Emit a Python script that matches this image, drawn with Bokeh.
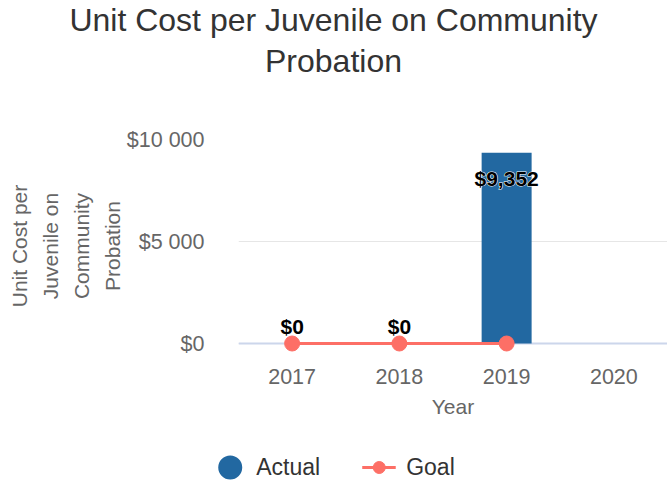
from bokeh.plotting import figure
from bokeh.models import (ColumnDataSource, Range1d, FactorRange, FixedTicker,
                          Legend, LegendItem, Span, Div)
from bokeh.layouts import column
from bokeh.core.properties import value
from bokeh.embed import file_html
from bokeh.resources import INLINE

years = ["2017", "2018", "2019", "2020"]
actual = [0, 0, 9352, None]
actual_labels = ["$0", "$0", "$9,352", ""]
goal_years = ["2017", "2018", "2019"]
goal = [0, 0, 0]
y_ticks = [0, 5000, 10000]
y_tick_labels = ["$0", "$5 000", "$10 000"]
title_lines = ["Unit Cost per Juvenile on Community", "Probation"]

FONT = "Liberation Sans"
BAR = "#2268a1"
GOAL = "#fd6f66"

# ---- title ----
title = Div(text="<div style=\"width:667px;text-align:center;font-family:'Liberation Sans';"
                 "font-size:32px;line-height:41px;color:#333333;padding-top:0px\">"
                 + "<br>".join(title_lines) + "</div>",
            width=667, height=90, margin=(0, 0, 0, 0))

# ---- main plot ----
p = figure(width=667, height=359, output_backend="svg", toolbar_location=None,
           x_range=FactorRange(*years, range_padding=0), y_range=Range1d(-441, 10000),
           min_border_left=238, min_border_right=0, min_border_top=49, min_border_bottom=97,
           margin=(0, 0, 0, 0))
p.outline_line_color = None

p.add_layout(Span(location=0, dimension="width", line_color="#ccd6eb", line_width=2,
                  level="underlay"))

bar_src = ColumnDataSource(dict(x=[y for y, v in zip(years, actual) if v is not None],
                                top=[v for v in actual if v is not None],
                                lab=[l for l, v in zip(actual_labels, actual) if v is not None]))
p.vbar(x="x", top="top", width=0.466, source=bar_src, fill_color=BAR, line_color=None)

gsrc = ColumnDataSource(dict(x=goal_years, y=goal))
p.line(x="x", y="y", source=gsrc, line_color=GOAL, line_width=3)
p.scatter(x="x", y="y", source=gsrc, size=15, fill_color=GOAL, line_color=GOAL)

bar_src.data["off"] = [-17 if v < 1000 else 26 for v in bar_src.data["top"]]
# white halo underneath, then black bold label on top
p.text(x="x", y="top", text="lab", source=bar_src, y_offset="off",
       text_align="center", text_baseline="middle", text_color="white",
       text_font=value(FONT), text_font_size="21px", text_font_style="bold",
       text_outline_color="white")
p.text(x="x", y="top", text="lab", source=bar_src, y_offset="off",
       text_align="center", text_baseline="middle", text_color="black",
       text_font=value(FONT), text_font_size="21px", text_font_style="bold")

p.yaxis.ticker = FixedTicker(ticks=y_ticks)
p.yaxis.major_label_overrides = {t: l for t, l in zip(y_ticks, y_tick_labels)}
p.yaxis.axis_line_color = None
p.yaxis.major_tick_line_color = None
p.yaxis.minor_tick_line_color = None
p.yaxis.major_label_text_font = FONT
p.yaxis.major_label_text_font_size = "21.5px"
p.yaxis.major_label_text_color = "#666666"
p.yaxis.major_label_standoff = 28
p.yaxis.axis_label = "Unit Cost per\nJuvenile on\nCommunity\nProbation"
p.yaxis.axis_label_text_font = FONT
p.yaxis.axis_label_text_font_size = "21px"
p.yaxis.axis_label_text_font_style = "normal"
p.yaxis.axis_label_text_color = "#666666"
p.yaxis.axis_label_text_line_height = 1.34
p.yaxis.axis_label_standoff = 0

p.xaxis.axis_line_color = None
p.xaxis.major_tick_line_color = None
p.xaxis.minor_tick_line_color = None
p.xaxis.major_label_text_font = FONT
p.xaxis.major_label_text_font_size = "21.5px"
p.xaxis.major_label_text_color = "#666666"
p.xaxis.major_label_standoff = 10
p.xaxis.axis_label = "Year"
p.xaxis.axis_label_text_font = FONT
p.xaxis.axis_label_text_font_size = "21px"
p.xaxis.axis_label_text_font_style = "normal"
p.xaxis.axis_label_text_color = "#666666"
p.xaxis.axis_label_standoff = 8

p.xgrid.grid_line_color = None
p.ygrid.grid_line_color = "#e6e6e6"
p.ygrid.grid_line_width = 1

# ---- legend strip: separate root so its frame spans the full width ----
lf = figure(width=667, height=36, output_backend="svg", toolbar_location=None,
            x_range=FactorRange(*years), y_range=Range1d(20000, 30000),
            x_axis_location=None, y_axis_location=None, min_border=0,
            margin=(0, 0, 0, 0))
lf.outline_line_color = None
lf.grid.visible = False
a_src = ColumnDataSource(dict(x=[y for y, v in zip(years, actual) if v is not None],
                              y=[v for v in actual if v is not None]))
a_proxy = lf.scatter(x="x", y="y", source=a_src, fill_color=BAR, line_color=BAR, line_width=12)
g_line = lf.line(x=goal_years, y=goal, line_color=GOAL, line_width=3)
g_mark = lf.scatter(x=goal_years, y=goal, fill_color=GOAL, line_color=GOAL)
leg = Legend(items=[LegendItem(label="Actual", renderers=[a_proxy]),
                    LegendItem(label="Goal", renderers=[g_line, g_mark])],
             location="center", orientation="horizontal",
             label_text_font=FONT, label_text_font_size="23px", label_text_color="#333333",
             glyph_width=34, glyph_height=30, label_standoff=10, spacing=42,
             padding=0, margin=0, border_line_color=None, background_fill_alpha=0)
lf.add_layout(leg, "center")

layout = column(title, p, spacing=0)
open("out.html", "w").write(file_html([layout, lf], INLINE))
